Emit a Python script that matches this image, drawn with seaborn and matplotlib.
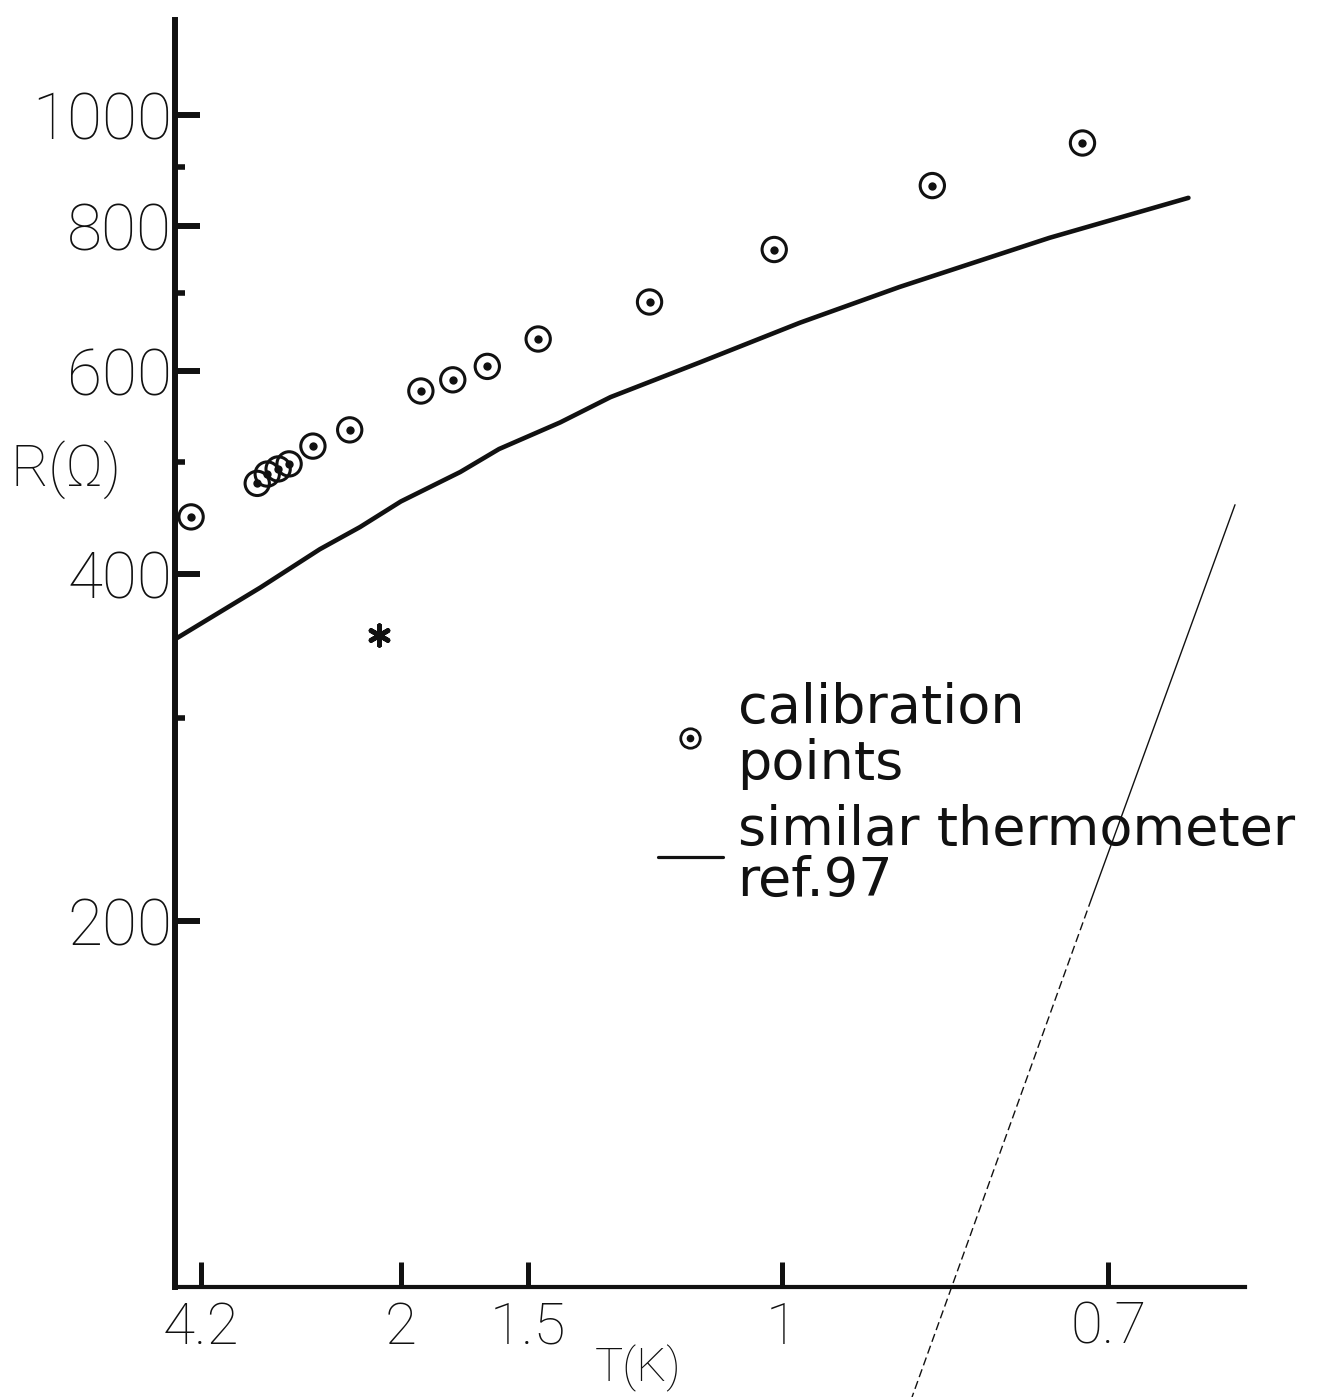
import numpy as np
import pandas as pd
import matplotlib
matplotlib.use("Agg")
import matplotlib.pyplot as plt
from matplotlib.lines import Line2D
from matplotlib.legend_handler import HandlerTuple
from matplotlib.ticker import NullFormatter
import seaborn as sns

# Calibration points: temperature (K) and resistance (ohm)
cal_T = [4.45, 3.21, 3.08, 2.95, 2.83, 2.60, 2.31, 1.90, 1.76, 1.63, 1.47, 1.21, 1.01, 0.835, 0.717]
cal_R = [448, 479, 488, 493, 498, 516, 533, 576, 589, 605, 639, 688, 764, 868, 945]

# Similar thermometer, ref. 97
ref_T = [4.98, 3.17, 2.54, 2.24, 2.00, 1.73, 1.59, 1.41, 1.29, 1.12, 0.977, 0.866, 0.740, 0.652]
ref_R = [350, 389, 420, 439, 462, 490, 513, 541, 569, 610, 660, 709, 782, 847]

# Isolated asterisk mark
star_T = [2.12]
star_R = [354]

# Thin diagonal pencil stroke crossing the lower right
stroke_T_solid = [0.627, 0.711]
stroke_R_solid = [459, 209]
stroke_T_dash = [0.711, 0.854]
stroke_R_dash = [209, 77.3]

x_ticks = [4.2, 2, 1.5, 1, 0.7]
x_tick_labels = ["4.2", "2", "1.5", "1", "0.7"]
y_ticks = [200, 400, 600, 800, 1000]
y_tick_labels = ["200", "400", "600", "800", "1000"]
y_minor = [300, 500, 700, 900]

ink = "#111111"


def inv(values):
    """Reciprocal temperature, the quantity the horizontal axis is linear in."""
    return 1.0 / np.asarray(values, dtype=float)


sns.set_theme(style="ticks")
plt.rcParams["font.family"] = ["Roboto", "DejaVu Sans"]
plt.rcParams["axes.edgecolor"] = ink

W, H = 1340, 1397
fig = plt.figure(figsize=(W / 100, H / 100), dpi=100)
ax = fig.add_axes([175 / W, 1 - 1287 / H, 1070 / W, 1267 / H])

cal = pd.DataFrame({"invT": inv(cal_T), "R": cal_R})
ref = pd.DataFrame({"invT": inv(ref_T), "R": ref_R})
star = pd.DataFrame({"invT": inv(star_T), "R": star_R})

sns.lineplot(data=ref, x="invT", y="R", sort=False, estimator=None,
             color=ink, lw=3.3, ax=ax)
sns.scatterplot(data=cal, x="invT", y="R", marker="o", s=17.5 ** 2,
                facecolors="none", edgecolors=ink, linewidths=2.2, ax=ax)
sns.scatterplot(data=cal, x="invT", y="R", marker="o", s=6 ** 2,
                color=ink, linewidth=0, ax=ax)
sns.scatterplot(data=star, x="invT", y="R", marker=(6, 2, 0), s=14 ** 2,
                color=ink, linewidth=3.5, ax=ax)

ax.plot(inv(stroke_T_solid), stroke_R_solid, color=ink, lw=1.0, clip_on=False)
ax.plot(inv(stroke_T_dash), stroke_R_dash, color=ink, lw=1.0,
        ls=(0, (6, 3)), clip_on=False)

ax.set_yscale("log")
ax.set_xlim(0.2036, 1.608)
ax.set_ylim(96.3, 1208)

ax.set_xticks(inv(x_ticks), x_tick_labels)
ax.set_xticks([], minor=True)
ax.set_yticks(y_ticks, y_tick_labels)
ax.set_yticks(y_minor, minor=True)
ax.yaxis.set_minor_formatter(NullFormatter())

ax.tick_params(axis="y", which="major", direction="in", length=18, width=4.3,
               pad=2, labelsize=46, color=ink, labelcolor=ink)
ax.tick_params(axis="y", which="minor", direction="in", length=7, width=4.0, color=ink)
ax.tick_params(axis="x", which="major", direction="in", length=18, width=3.6,
               pad=10, labelsize=42, color=ink, labelcolor=ink)
for lab in ax.get_xticklabels() + ax.get_yticklabels():
    lab.set_fontweight("light")

sns.despine(ax=ax)
ax.spines["left"].set_linewidth(4.3)
ax.spines["bottom"].set_linewidth(3.0)
ax.grid(False)

ax.set_ylabel("R(Ω)", rotation=0, fontsize=42, ha="left", va="center",
              color=ink, fontweight="light")
ax.yaxis.set_label_coords(-0.154, 0.645)
ax.set_xlabel("T(K)", fontsize=34, va="center", color=ink, fontweight="light")
ax.xaxis.set_label_coords(0.4327, -0.064)

ring = Line2D([], [], ls="none", marker="o", ms=14, mfc="none", mec=ink, mew=2.0)
dot = Line2D([], [], ls="none", marker="o", ms=4.5, mfc=ink, mec=ink)
curve = Line2D([], [], color=ink, lw=2.3)
leg = ax.legend([(ring, dot), curve],
                ["calibration\npoints", "similar thermometer\nref.97"],
                handler_map={tuple: HandlerTuple(ndivide=1)},
                loc="upper left",
                bbox_to_anchor=((658 - 175) / 1070, (1287 - 682) / 1267),
                frameon=False, borderpad=0, borderaxespad=0,
                handlelength=1.2, handletextpad=0.27, labelspacing=0.25,
                prop={"family": "DejaVu Sans", "size": 39})
texts = leg.get_texts()
for t in texts:
    t.set_color(ink)
texts[0].set_linespacing(1.1)
texts[1].set_linespacing(0.98)

fig.savefig("out.png", dpi=100)
